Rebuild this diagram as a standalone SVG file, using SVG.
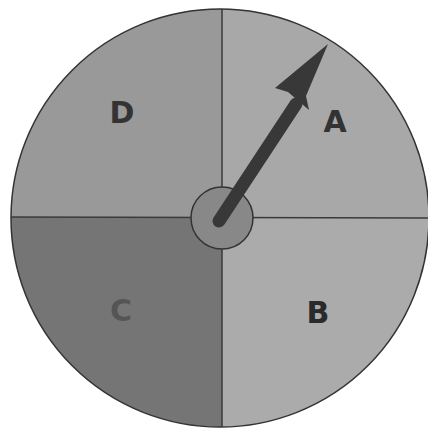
<svg xmlns="http://www.w3.org/2000/svg" width="428" height="431" viewBox="0 0 428 431">
<style>
.q{stroke:none}
.div{stroke:#3a3a3a;stroke-width:1.5;fill:none}
.lbl{font-family:"DejaVu Sans","Liberation Sans",sans-serif;font-weight:bold;font-size:30px;text-anchor:middle}
</style>
<defs><clipPath id="c"><circle cx="220" cy="218" r="209"/></clipPath></defs>
<rect width="428" height="431" fill="#fff"/>
<g id="wheel" clip-path="url(#c)">
<rect class="q" x="222" y="0" width="210" height="217" fill="#a8a8a8"/>
<rect class="q" x="222" y="217" width="210" height="220" fill="#ababab"/>
<rect class="q" x="0" y="217" width="222" height="220" fill="#757575"/>
<rect class="q" x="0" y="0" width="222" height="217" fill="#999999"/>
<line class="div" x1="222" y1="0" x2="222" y2="431"/>
<line class="div" x1="0" y1="217" x2="428" y2="218"/>
</g>
<circle cx="220" cy="218" r="209" fill="none" stroke="#333" stroke-width="1.5"/>
<g id="labels">
<text class="lbl" x="122" y="123" fill="#333">D</text>
<text class="lbl" x="335" y="132" fill="#333">A</text>
<text class="lbl" x="318" y="323" fill="#2a2a2a">B</text>
<text class="lbl" x="121" y="321" fill="#555">C</text>
</g>
<g id="hub"><circle cx="222" cy="218" r="31" fill="#888" stroke="#333" stroke-width="1.5"/></g>
<g id="arrow">
<line x1="219" y1="221" x2="296" y2="104" stroke="#383838" stroke-width="13" stroke-linecap="round"/>
<polygon points="328,44 275,88 288,92 309,110 306,96" fill="#383838"/>
</g>
</svg>
